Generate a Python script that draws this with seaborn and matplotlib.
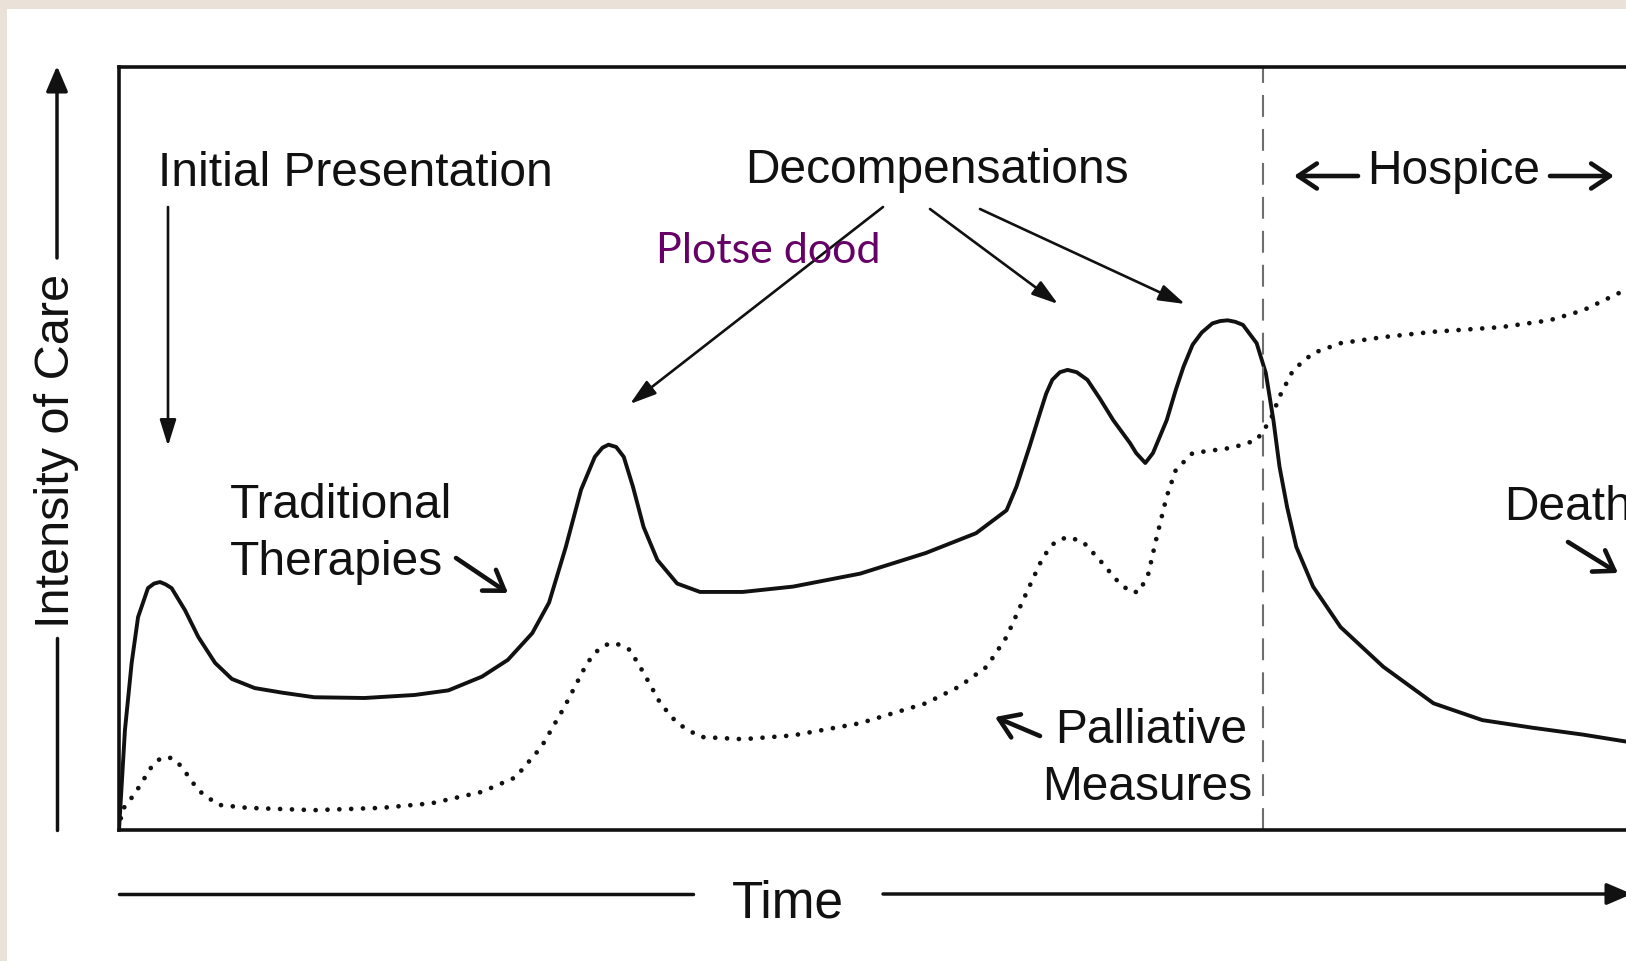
import numpy as np
import pandas as pd
import matplotlib.pyplot as plt
import seaborn as sns
from matplotlib.patches import Rectangle
from matplotlib.lines import Line2D

# --- waarden (tijd in willekeurige eenheden, intensiteit 0-100) ---
care_time = [0, 0.39, 0.83, 1.25, 1.9, 2.3, 2.69, 3.05, 3.45, 4.33, 5.2, 6.3, 7.4, 8.9, 10.7,
             12.8, 16.1, 19.4, 21.6, 23.8, 25.5, 27.1, 28.2, 29.3, 30.3, 31.2, 31.7, 32.1,
             32.6, 33.1, 33.7, 34.4, 35.3, 36.6, 38.1, 40.9, 44.2, 48.6, 52.9, 56.2, 58.2,
             58.85, 59.7, 60.4, 60.8, 61.2, 61.7, 62.2, 62.8, 63.5, 64.3, 65.2, 66.3, 66.7,
             67.3, 67.8, 68.7, 69.3, 69.8, 70.4, 71.0, 71.7, 72.2, 72.7, 73.2, 73.7, 74.6,
             75.2, 75.7, 76.1, 76.6, 77.2, 78.3, 80.1, 82.9, 86.2, 89.4, 92.7, 96.0, 98.8, 104]
care_level = [0, 13.1, 21.9, 27.9, 31.7, 32.3, 32.5, 32.2, 31.7, 28.8, 25.3, 21.9, 19.8, 18.6,
              18.0, 17.4, 17.3, 17.7, 18.3, 20.1, 22.3, 25.8, 29.8, 37.1, 44.6, 48.9, 50.1,
              50.5, 50.2, 48.9, 45.0, 39.7, 35.4, 32.3, 31.2, 31.2, 31.9, 33.6, 36.3, 38.9,
              41.9, 45.0, 50.2, 54.7, 57.2, 59.0, 60.0, 60.3, 60.0, 59.0, 56.6, 53.7, 50.7,
              49.4, 48.1, 49.4, 53.7, 57.7, 60.7, 63.6, 65.2, 66.4, 66.7, 66.8, 66.6, 66.2,
              63.8, 59.9, 53.7, 47.6, 42.3, 37.1, 31.9, 26.6, 21.4, 16.6, 14.4, 13.4, 12.5,
              11.6, 10.8]

palliative_time = [0, 0.2, 1.05, 2.14, 2.6, 3.12, 3.6, 4.1, 5.2, 6.5, 8.45, 12.8, 17.2, 20.5,
                   23.8, 26.0, 27.7, 29.2, 30.7, 31.5, 32.2, 32.8, 33.5, 34.4, 35.5, 36.6,
                   38.1, 40.9, 44.2, 48.6, 52.9, 55.1, 56.9, 58.2, 59.1, 59.9, 60.6, 61.4,
                   62.2, 63.2, 64.3, 65.4, 66.3, 66.9, 67.5, 68.0, 68.7, 69.3, 70.4, 73.0,
                   74.6, 75.5, 76.1, 77.0, 78.3, 80.1, 82.9, 86.2, 90.6, 93.8, 96.0, 98.8, 104]
palliative_level = [0, 2.6, 4.8, 8.3, 9.2, 9.6, 9.3, 8.3, 5.2, 3.3, 2.9, 2.6, 2.9, 3.5,
                    5.0, 6.9, 10.9, 16.1, 21.9, 23.8, 24.5, 24.3, 23.6, 20.6, 16.6, 14.0,
                    12.2, 11.9, 12.4, 14.0, 16.6, 18.8, 21.4, 25.3, 29.3, 32.8, 35.8, 37.8,
                    38.4, 37.8, 35.4, 32.8, 31.2, 31.2, 33.6, 38.0, 43.7, 47.2, 49.4, 50.1,
                    51.1, 53.7, 56.8, 60.3, 62.5, 63.8, 64.6, 65.3, 65.9, 66.8, 68.1, 70.8, 75]

hospice_start = 75

care_df = pd.DataFrame({"time": care_time, "intensity": care_level})
pall_df = pd.DataFrame({"time": palliative_time, "intensity": palliative_level})

# --- stijl ---
sns.set_theme(style="white")
plt.rcParams['font.family'] = ['Liberation Sans', 'DejaVu Sans']

W, H = 1626, 961
ink = '#111111'


def fx(x):
    return x / W


def fy(y):
    return 1 - y / H


fig = plt.figure(figsize=(W / 100, H / 100), dpi=100, facecolor='#EAE2D8')
fig.patches.append(Rectangle((fx(7), 0), 1, fy(9), transform=fig.transFigure,
                             facecolor='white', edgecolor='none', zorder=-10))

# assen: links 119px, onder 830px, boven 67px; rechterrand valt buiten beeld
ax = fig.add_axes([fx(119), fy(830), 1586 / W, (830 - 67) / H])
ax.set_xlim(0, 104)
ax.set_ylim(0, 100)
ax.set_facecolor('white')

sns.lineplot(data=care_df, x="time", y="intensity", ax=ax, color=ink, lw=2.8,
             sort=False, estimator=None, solid_joinstyle='round')
sns.lineplot(data=pall_df, x="time", y="intensity", ax=ax, color=ink, lw=3.4,
             sort=False, estimator=None, linestyle=(0, (0.01, 2.5)))
ax.lines[-1].set_dash_capstyle('round')

ax.axvline(hospice_start, color='#6e6e6e', lw=1.5, dashes=(10.5, 5.8))

for side in ['left', 'top', 'bottom', 'right']:
    ax.spines[side].set_linewidth(2.6)
    ax.spines[side].set_color(ink)
ax.set_xticks([])
ax.set_yticks([])
ax.set_xlabel('')
ax.set_ylabel('')

# --- assen-pijlen buiten het kader ---
fig.add_artist(Line2D([fx(57), fx(57)], [fy(830), fy(638)], color=ink, lw=2.5))
ax.annotate('', xy=(fx(57), fy(66)), xytext=(fx(57), fy(258)), xycoords='figure fraction',
            arrowprops=dict(arrowstyle='-|>,head_length=0.7,head_width=0.3', color=ink,
                            lw=2.5, mutation_scale=22, shrinkA=0, shrinkB=0))
fig.text(fx(57), fy(451), 'Intensity of Care', rotation=90, ha='center', va='center',
         fontsize=35, color=ink)

fig.add_artist(Line2D([fx(119), fx(693)], [fy(894), fy(894)], color=ink, lw=2.5))
ax.annotate('', xy=(fx(1632), fy(894)), xytext=(fx(883), fy(894)), xycoords='figure fraction',
            arrowprops=dict(arrowstyle='-|>,head_length=0.7,head_width=0.3', color=ink,
                            lw=2.5, mutation_scale=22, shrinkA=0, shrinkB=0))
fig.text(fx(788), fy(904), 'Time', ha='center', va='center', fontsize=37, color=ink)

# --- teksten ---
lbl = dict(fontsize=34.5, color=ink, va='baseline')
fig.text(fx(158), fy(186), 'Initial Presentation', ha='left', **lbl)
fig.text(fx(745), fy(183), 'Decompensations', ha='left', **lbl)
fig.text(fx(1367), fy(184), 'Hospice', ha='left', **lbl)
fig.text(fx(230), fy(518), 'Traditional', ha='left', **lbl)
fig.text(fx(230), fy(575), 'Therapies', ha='left', **lbl)
fig.text(fx(1055), fy(743), 'Palliative', ha='left', **lbl)
fig.text(fx(1252), fy(800), 'Measures', ha='right', **lbl)
fig.text(fx(1504), fy(520), 'Death', ha='left', **lbl)
fig.text(fx(656), fy(263), 'Plotse dood', ha='left', va='baseline', fontsize=31,
         color='#660066', family=['Lato', 'DejaVu Sans'])

# --- pijlen ---
thin = dict(arrowstyle='-|>,head_length=0.8,head_width=0.25', color=ink, lw=1.9,
            mutation_scale=20, shrinkA=0, shrinkB=0)
thick = dict(arrowstyle='->,head_length=0.45,head_width=0.3', color=ink, lw=3.3,
             mutation_scale=30, shrinkA=0, shrinkB=0)


def arrow(x0, y0, x1, y1, props):
    ax.annotate('', xy=(fx(x1), fy(y1)), xytext=(fx(x0), fy(y0)),
                xycoords='figure fraction', textcoords='figure fraction', arrowprops=props)


arrow(168, 207, 168, 446, thin)
arrow(883, 207, 630, 404, thin)
arrow(930, 209, 1058, 304, thin)
arrow(980, 209, 1185, 304, thin)
arrow(1358, 176, 1294, 176, thick)
arrow(1550, 176, 1614, 176, thick)
arrow(456, 558, 508, 593, thick)
arrow(1040, 736, 995, 717, thick)
arrow(1568, 542, 1618, 573, thick)

fig.savefig('out.png', dpi=100, facecolor=fig.get_facecolor())
